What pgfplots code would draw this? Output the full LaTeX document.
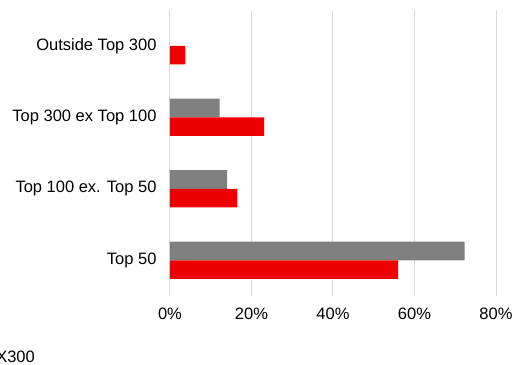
\documentclass[border=0pt]{standalone}
\usepackage{pgfplots}
\pgfplotsset{compat=1.18}
\usepackage{fontspec}
\setmainfont{Liberation Sans}
\definecolor{barred}{RGB}{238,0,0}
\definecolor{bargrey}{RGB}{128,128,128}
\definecolor{gridgrey}{RGB}{217,217,217}
\begin{document}
\begin{tikzpicture}
\useasboundingbox (-170bp,-69bp) rectangle (342bp,296bp);
\begin{axis}[
  at={(0,0)}, anchor=south west,
  scale only axis, width=326bp, height=286bp,
  xmin=0, xmax=80, ymin=-0.5, ymax=3.5,
  xbar, bar width=0.26,
  axis line style={draw=none},
  xtick={0,20,40,60,80},
  xticklabel={\pgfmathprintnumber{\tick}\%},
  ytick={0,1,2,3},
  yticklabels={Top 50, Top 100 ex. Top 50, Top 300 ex Top 100, Outside Top 300},
  major tick length=0,
  xmajorgrids, grid style={gridgrey, line width=1bp},
  tick label style={font=\fontsize{16.5bp}{19bp}\selectfont, text=black},
  xticklabel style={yshift=-8bp},
  yticklabel style={xshift=-10bp},
  /pgf/number format/assume math mode=true,
]
\addplot[fill=bargrey, draw=none, bar shift=0.13] coordinates {(72.3,0) (14.0,1) (12.2,2)};
\addplot[fill=barred, draw=none, bar shift=-0.13] coordinates {(56.0,0) (16.5,1) (23.1,2) (3.7,3)};
\end{axis}
\node[anchor=base east, inner sep=0, font=\fontsize{16.5bp}{19bp}\selectfont] at (-135bp,-66bp) {X300};
\end{tikzpicture}
\end{document}
